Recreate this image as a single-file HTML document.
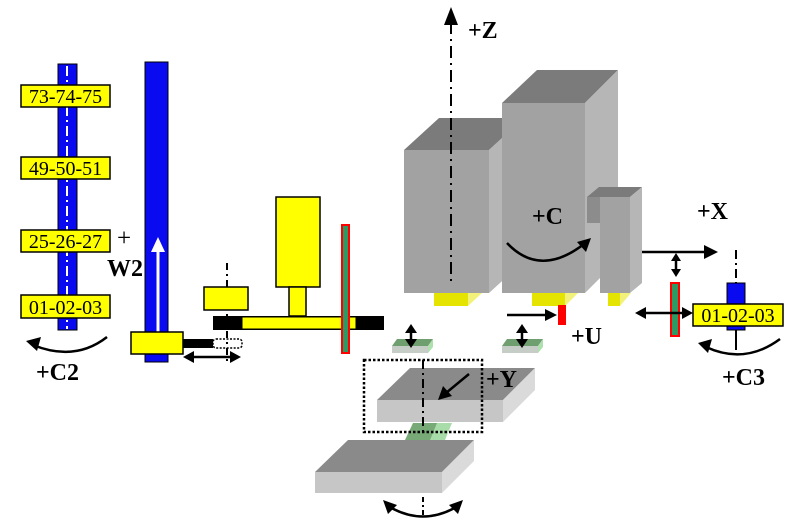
<!DOCTYPE html>
<html><head><meta charset="utf-8"><style>
html,body{margin:0;padding:0;background:#fff;}
svg{display:block;}
text{font-family:"Liberation Serif","Times New Roman","DejaVu Serif",serif;}
.b{font-weight:bold;}
</style></head><body>
<svg width="800" height="526" viewBox="0 0 800 526" xmlns="http://www.w3.org/2000/svg" font-family="Liberation Serif, Times New Roman, DejaVu Serif, serif">
<rect width="800" height="526" fill="#fff"/>

<!-- Left column -->
<rect x="58" y="64" width="19" height="266" fill="#0a0af0" stroke="#000" stroke-width="1"/>
<line x1="67" y1="66" x2="67" y2="329" stroke="#fff" stroke-width="2" stroke-dasharray="10,4,2,4"/>
<g stroke="#000" stroke-width="1.5" fill="#ffff00">
<rect x="21" y="85" width="89" height="22"/>
<rect x="21" y="157" width="89" height="22"/>
<rect x="21" y="230" width="89" height="22"/>
<rect x="21" y="295" width="89" height="23"/>
</g>
<g font-size="20" text-anchor="middle" fill="#000">
<text x="65.5" y="103">73-74-75</text>
<text x="65.5" y="175">49-50-51</text>
<text x="65.5" y="248">25-26-27</text>
<text x="65.5" y="314">01-02-03</text>
</g>
<!-- C2 arc -->
<path d="M107,337 Q75,362 33,345" fill="none" stroke="#000" stroke-width="2.5"/>
<polygon points="26,341 41,337 37,351" fill="#000"/>
<text x="36" y="380" font-size="24" class="b">+C2</text>

<!-- W2 -->
<text x="117" y="246" font-size="25">+</text>
<text x="107" y="276" font-size="24" class="b">W2</text>
<rect x="145" y="62" width="23" height="300" fill="#0a0af0" stroke="#000" stroke-width="1"/>
<line x1="158" y1="333" x2="158" y2="250" stroke="#fff" stroke-width="3"/>
<polygon points="151,252 165,252 158,237" fill="#fff"/>
<rect x="131" y="332" width="52" height="22" fill="#ffff00" stroke="#000" stroke-width="1.5"/>
<rect x="183" y="339" width="30" height="9" fill="#000"/>
<rect x="213" y="339" width="29" height="9" rx="3" fill="#fff" stroke="#000" stroke-width="1.5" stroke-dasharray="2,1.5"/>
<line x1="191" y1="357" x2="233" y2="357" stroke="#000" stroke-width="2.5"/>
<polygon points="183,357 194,351 194,363" fill="#000"/>
<polygon points="241,357 230,351 230,363" fill="#000"/>
<line x1="227" y1="263" x2="227" y2="362" stroke="#000" stroke-width="2" stroke-dasharray="7,4,2,4"/>

<!-- spindle assembly -->
<rect x="204" y="287" width="44" height="23" fill="#ffff00" stroke="#000" stroke-width="1.5"/>
<rect x="213" y="316" width="171" height="14" fill="#000"/>
<rect x="242" y="317" width="114" height="12" fill="#ffff00" stroke="#000" stroke-width="1"/>
<rect x="276" y="197" width="44" height="90" fill="#ffff00" stroke="#000" stroke-width="1.5"/>
<rect x="289" y="287" width="17" height="29" fill="#ffff00" stroke="#000" stroke-width="1.5"/>
<rect x="342" y="225" width="7" height="128" fill="#2e9a63" stroke="#ff0000" stroke-width="2"/>

<!-- gray boxes -->
<polygon points="404,150 489,150 524,118 439,118" fill="#7b7b7b"/>
<polygon points="489,150 524,118 524,261 489,293" fill="#b6b6b6"/>
<rect x="404" y="150" width="85" height="143" fill="#a2a2a2"/>
<polygon points="502,103 585,103 618,70 537,70" fill="#7b7b7b"/>
<polygon points="585,103 618,70 618,260 585,293" fill="#b6b6b6"/>
<rect x="502" y="103" width="83" height="190" fill="#a2a2a2"/>
<polygon points="587,197 630,197 642,187 599,187" fill="#7b7b7b"/>
<rect x="587" y="197" width="13" height="26" fill="#8c8c8c"/>
<polygon points="630,197 642,187 642,283 630,293" fill="#b6b6b6"/>
<rect x="600" y="197" width="30" height="96" fill="#a2a2a2"/>
<!-- feet -->
<rect x="434" y="293" width="34" height="13" fill="#e4e400"/>
<polygon points="468,293 482,293 468,306" fill="#f2f27a"/>
<rect x="532" y="293" width="33" height="13" fill="#e4e400"/>
<polygon points="565,293 578,293 565,306" fill="#f2f27a"/>
<rect x="608" y="293" width="12" height="13" fill="#e4e400"/>
<polygon points="620,293 631,293 620,306" fill="#f2f27a"/>

<!-- Z axis -->
<line x1="451" y1="22" x2="451" y2="285" stroke="#000" stroke-width="2" stroke-dasharray="12,5,2,5"/>
<polygon points="444,25 458,25 451,7" fill="#000"/>
<text x="468" y="38" font-size="24" class="b">+Z</text>

<!-- +C -->
<text x="532" y="224" font-size="24" class="b">+C</text>
<path d="M507,243 Q540,278 584,244" fill="none" stroke="#000" stroke-width="2.5"/>
<polygon points="591,238 586,252 577,242" fill="#000"/>

<!-- U -->
<rect x="558" y="305" width="8" height="20" fill="#ff0000"/>
<line x1="507" y1="315" x2="548" y2="315" stroke="#000" stroke-width="2.5"/>
<polygon points="557,315 545,309 545,321" fill="#000"/>
<text x="571" y="344" font-size="24" class="b">+U</text>

<!-- X -->
<line x1="642" y1="252" x2="706" y2="252" stroke="#000" stroke-width="2.5"/>
<polygon points="718,252 704,245 704,259" fill="#000"/>
<text x="697" y="219" font-size="24" class="b">+X</text>
<line x1="676" y1="259" x2="676" y2="271" stroke="#000" stroke-width="2.5"/>
<polygon points="676,253 671,261 681,261" fill="#000"/>
<polygon points="676,277 671,269 681,269" fill="#000"/>

<rect x="671" y="283" width="8" height="53" fill="#2e9a63" stroke="#ff0000" stroke-width="2"/>
<line x1="643" y1="313" x2="685" y2="313" stroke="#000" stroke-width="2.5"/>
<polygon points="635,313 646,307 646,319" fill="#000"/>
<polygon points="693,313 682,307 682,319" fill="#000"/>

<line x1="736" y1="250" x2="736" y2="283" stroke="#000" stroke-width="2" stroke-dasharray="9,4,2,4"/>
<rect x="727" y="283" width="18" height="47" fill="#0a0af0" stroke="#000" stroke-width="1"/>
<rect x="693" y="304" width="90" height="22" fill="#ffff00" stroke="#000" stroke-width="1.5"/>
<text x="738" y="322" font-size="20" text-anchor="middle">01-02-03</text>
<line x1="736" y1="330" x2="736" y2="350" stroke="#000" stroke-width="2"/>
<path d="M780,339 Q745,365 706,347" fill="none" stroke="#000" stroke-width="2.5"/>
<polygon points="698,343 712,339 708,353" fill="#000"/>
<text x="722" y="385" font-size="24" class="b">+C3</text>

<!-- green plates -->
<polygon points="392,346 428,346 433,339 397,339" fill="#6f9f6f"/>
<rect x="392" y="346" width="36" height="7" fill="#c6cdc6"/>
<polygon points="428,346 433,339 433,347 428,353" fill="#aee0ae"/>
<polygon points="502,346 538,346 543,339 507,339" fill="#6f9f6f"/>
<rect x="502" y="346" width="36" height="7" fill="#c6cdc6"/>
<polygon points="538,346 543,339 543,347 538,353" fill="#aee0ae"/>
<line x1="411" y1="331" x2="411" y2="342" stroke="#000" stroke-width="2.5"/>
<polygon points="411,324 405,333 417,333" fill="#000"/>
<polygon points="411,348 405,339 417,339" fill="#000"/>
<line x1="522" y1="331" x2="522" y2="342" stroke="#000" stroke-width="2.5"/>
<polygon points="522,324 516,333 528,333" fill="#000"/>
<polygon points="522,348 516,339 528,339" fill="#000"/>

<!-- green link -->
<polygon points="405,440 440,440 448,423 413,423" fill="#78aa78"/>
<polygon points="430,440 445,440 452,423 437,423" fill="#a8dca8"/>

<!-- upper slab -->
<polygon points="377,400 503,400 535,368 410,368" fill="#8a8a8a"/>
<rect x="377" y="400" width="126" height="22" fill="#c6c6c6"/>
<polygon points="503,400 535,368 535,390 503,422" fill="#dadada"/>

<!-- lower slab -->
<polygon points="315,472 442,472 474,440 348,440" fill="#8a8a8a"/>
<rect x="315" y="472" width="127" height="21" fill="#c6c6c6"/>
<polygon points="442,472 474,440 474,461 442,493" fill="#dadada"/>

<!-- dotted rect -->
<rect x="364" y="360" width="118" height="72" fill="none" stroke="#000" stroke-width="2.5" stroke-dasharray="2.5,2"/>
<line x1="423" y1="360" x2="423" y2="432" stroke="#000" stroke-width="2" stroke-dasharray="9,4,2,4"/>
<line x1="469" y1="374" x2="446" y2="393" stroke="#000" stroke-width="2.5"/>
<polygon points="438,400 443,386 452,396" fill="#000"/>
<text x="486" y="387" font-size="24" class="b">+Y</text>

<!-- bottom rotation -->
<line x1="423" y1="497" x2="423" y2="518" stroke="#000" stroke-width="2" stroke-dasharray="5,3,2,3"/>
<path d="M388,506 Q423,527 458,506" fill="none" stroke="#000" stroke-width="2.5"/>
<polygon points="383,500 397,505 388,514" fill="#000"/>
<polygon points="463,500 449,505 458,514" fill="#000"/>
</svg>
</body></html>
